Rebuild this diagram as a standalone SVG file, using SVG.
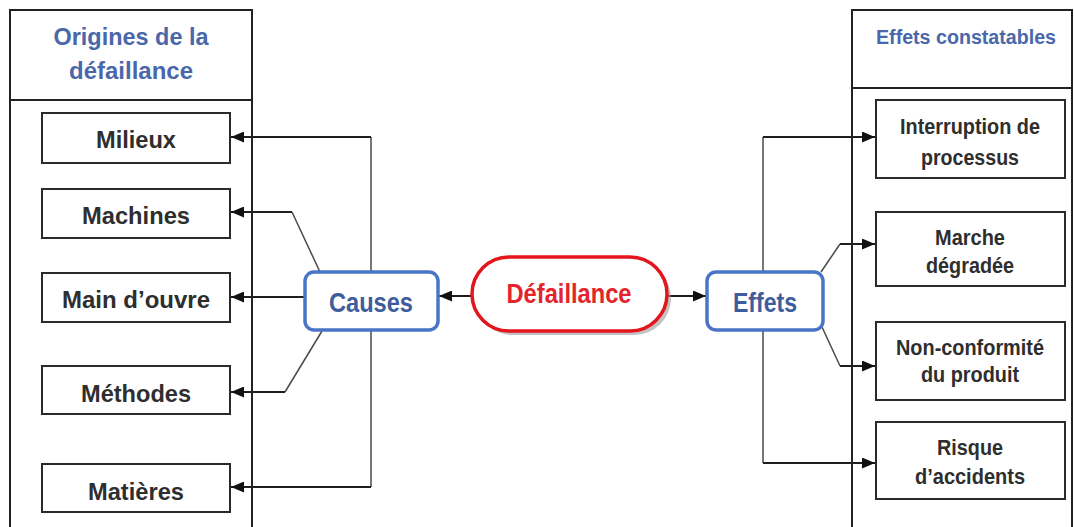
<svg xmlns="http://www.w3.org/2000/svg" width="1074" height="527" viewBox="0 0 1074 527">
  <style>
    .panel { fill: #ffffff; stroke: #222222; stroke-width: 2; }
    .box { fill: #ffffff; stroke: #2a2a2a; stroke-width: 2; }
    .blue { fill: #ffffff; stroke: #4a74c6; stroke-width: 3.5; }
    .head { font-family: "Liberation Sans", Arial, sans-serif; font-weight: bold; fill: #4a67aa; text-anchor: middle; }
    .lbl { font-family: "Liberation Sans", Arial, sans-serif; font-weight: bold; fill: #2e2e2e; text-anchor: middle; }
    .blbl { font-family: "Liberation Sans", Arial, sans-serif; font-weight: bold; fill: #3e5c9e; text-anchor: middle; }
    .rlbl { font-family: "Liberation Sans", Arial, sans-serif; font-weight: bold; fill: #e3242b; text-anchor: middle; }
    .link { fill: none; stroke: #1e1e1e; stroke-width: 2; marker-end: url(#arrow); }
    .thin { fill: none; stroke: #4a4a4a; stroke-width: 1.5; }
  </style>
  <defs>
    <marker id="arrow" markerUnits="userSpaceOnUse" markerWidth="13" markerHeight="11" refX="13" refY="5.5" orient="auto">
      <path d="M0,0 L13,5.5 L0,11 z" fill="#111111"/>
    </marker>
  </defs>
  <rect width="1074" height="527" fill="#ffffff"/>

  <!-- left column: origins -->
  <g id="panel-origines">
    <rect class="panel" x="10" y="10" width="242" height="530"/>
    <line x1="10" y1="100" x2="252" y2="100" stroke="#222222" stroke-width="2"/>
    <text class="head" x="131" y="45" font-size="24" textLength="155" lengthAdjust="spacingAndGlyphs">Origines de la</text>
    <text class="head" x="131" y="79" font-size="24" textLength="124" lengthAdjust="spacingAndGlyphs">défaillance</text>
  </g>

  <!-- right column: observable effects -->
  <g id="panel-effets">
    <rect class="panel" x="852" y="10" width="220" height="530"/>
    <line x1="852" y1="88" x2="1072" y2="88" stroke="#222222" stroke-width="2"/>
    <text class="head" x="966" y="44" font-size="20" textLength="180" lengthAdjust="spacingAndGlyphs">Effets constatables</text>
  </g>

  <!-- connectors -->
  <g id="connectors">
    <line class="link" x1="472" y1="296" x2="439" y2="296"/>
    <line class="link" x1="667" y1="296" x2="706" y2="296"/>
    <path class="thin" d="M371,272 L371,137"/>
    <path class="link" d="M371,137 L231,137"/>
    <path class="thin" d="M371,330 L371,487"/>
    <path class="link" d="M371,487 L231,487"/>
    <path class="thin" d="M320,272 L292,212"/>
    <path class="link" d="M292,212 L231,212"/>
    <path class="link" d="M305,297 L231,297"/>
    <path class="thin" d="M322,331 L285,392"/>
    <path class="link" d="M285,392 L231,392"/>
    <path class="thin" d="M763,272 L763,137"/>
    <path class="link" d="M763,137 L875,137"/>
    <path class="thin" d="M763,330 L763,463"/>
    <path class="link" d="M763,463 L875,463"/>
    <path class="thin" d="M821,272 L840,244"/>
    <path class="link" d="M840,244 L875,244"/>
    <path class="thin" d="M822,327 L840,366"/>
    <path class="link" d="M840,366 L875,366"/>
  </g>

  <g id="milieux">
    <rect class="box" x="42" y="113" width="188" height="50"/>
    <text class="lbl" x="136" y="148" font-size="24" textLength="80" lengthAdjust="spacingAndGlyphs">Milieux</text>
  </g>
  <g id="machines">
    <rect class="box" x="42" y="189" width="188" height="49"/>
    <text class="lbl" x="136" y="224" font-size="24" textLength="108" lengthAdjust="spacingAndGlyphs">Machines</text>
  </g>
  <g id="main-oeuvre">
    <rect class="box" x="42" y="273" width="188" height="49"/>
    <text class="lbl" x="136" y="308" font-size="24" textLength="148" lengthAdjust="spacingAndGlyphs">Main d’ouvre</text>
  </g>
  <g id="methodes">
    <rect class="box" x="42" y="366" width="188" height="48"/>
    <text class="lbl" x="136" y="402" font-size="24" textLength="110" lengthAdjust="spacingAndGlyphs">Méthodes</text>
  </g>
  <g id="matieres">
    <rect class="box" x="42" y="464" width="188" height="48"/>
    <text class="lbl" x="136" y="500" font-size="24" textLength="96" lengthAdjust="spacingAndGlyphs">Matières</text>
  </g>

  <g id="causes">
    <rect class="blue" x="305" y="272" width="133" height="58" rx="9"/>
    <text class="blbl" x="371" y="312" font-size="27" textLength="84" lengthAdjust="spacingAndGlyphs">Causes</text>
  </g>

  <g id="defaillance">
    <rect x="476" y="261" width="195" height="74" rx="37" fill="#9a9a9a" opacity="0.6"/>
    <rect x="472" y="257" width="195" height="74" rx="37" fill="#ffffff" stroke="#e3161d" stroke-width="3.5"/>
    <text class="rlbl" x="569" y="303" font-size="27" textLength="125" lengthAdjust="spacingAndGlyphs">Défaillance</text>
  </g>

  <g id="effets">
    <rect class="blue" x="707" y="272" width="116" height="58" rx="9"/>
    <text class="blbl" x="765" y="312" font-size="27" textLength="64" lengthAdjust="spacingAndGlyphs">Effets</text>
  </g>

  <g id="interruption">
    <rect class="box" x="876" y="100" width="189" height="78"/>
    <text class="lbl" x="970" y="134" font-size="22" textLength="140" lengthAdjust="spacingAndGlyphs">Interruption de</text>
    <text class="lbl" x="970" y="165" font-size="22" textLength="98" lengthAdjust="spacingAndGlyphs">processus</text>
  </g>
  <g id="marche">
    <rect class="box" x="876" y="212" width="189" height="74"/>
    <text class="lbl" x="970" y="245" font-size="22" textLength="70" lengthAdjust="spacingAndGlyphs">Marche</text>
    <text class="lbl" x="970" y="273" font-size="22" textLength="88" lengthAdjust="spacingAndGlyphs">dégradée</text>
  </g>
  <g id="non-conformite">
    <rect class="box" x="876" y="322" width="189" height="78"/>
    <text class="lbl" x="970" y="355" font-size="22" textLength="148" lengthAdjust="spacingAndGlyphs">Non-conformité</text>
    <text class="lbl" x="970" y="382" font-size="22" textLength="98" lengthAdjust="spacingAndGlyphs">du produit</text>
  </g>
  <g id="risque">
    <rect class="box" x="876" y="422" width="189" height="77"/>
    <text class="lbl" x="970" y="455" font-size="22" textLength="66" lengthAdjust="spacingAndGlyphs">Risque</text>
    <text class="lbl" x="970" y="484" font-size="22" textLength="110" lengthAdjust="spacingAndGlyphs">d’accidents</text>
  </g>
</svg>
